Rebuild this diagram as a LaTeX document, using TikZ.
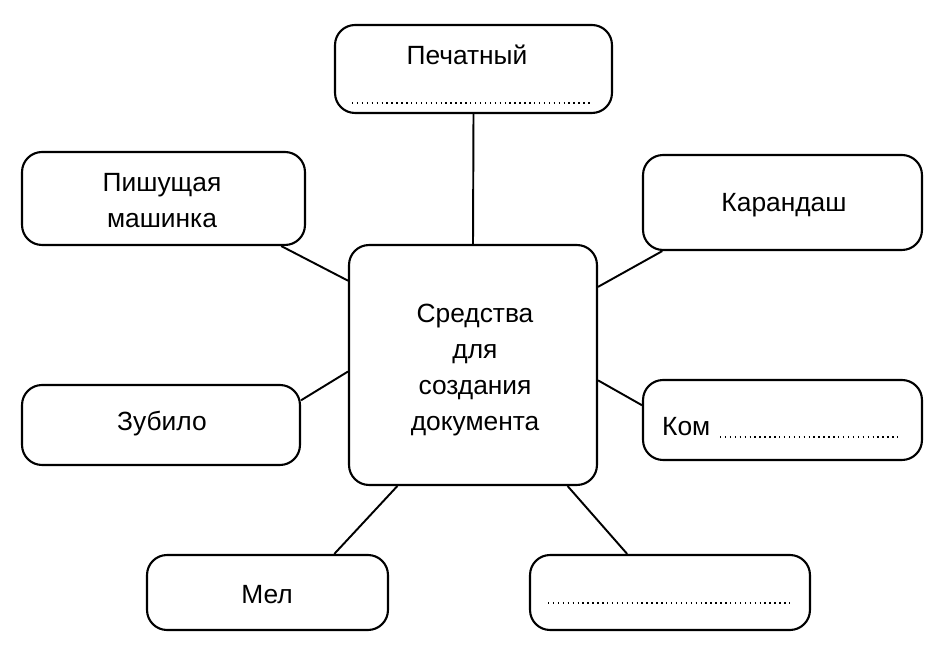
\documentclass[tikz,border=0pt]{standalone}
\usepackage{fontspec}
\setmainfont{Liberation Sans}
\usetikzlibrary{positioning}
\tikzset{box/.style={draw, line width=1.2pt, rounded corners=0.4cm, minimum width=#1, inner sep=0pt},
  txt/.style={font=\fontsize{15}{20.5}\selectfont, align=center},
  dots/.style={dotted, line width=0.8pt},
  link/.style={line width=1.1pt}}
\begin{document}
\begin{tikzpicture}[x=0.02cm, y=-0.02cm]
  \useasboundingbox (0,0) rectangle (950,651);
  % boxes
  \node[box=5.54cm, minimum height=1.76cm] (pech) at (473.5,69) {};
  \node[box=5.66cm, minimum height=1.86cm] (pm) at (163.5,198.5) {};
  \node[box=5.58cm, minimum height=1.9cm] (kar) at (782.5,202.5) {};
  \node[box=4.96cm, minimum height=4.8cm] (c) at (473,365) {};
  \node[box=5.56cm, minimum height=1.6cm] (zub) at (161,425) {};
  \node[box=5.58cm, minimum height=1.6cm] (kom) at (782.5,420) {};
  \node[box=4.82cm, minimum height=1.5cm] (mel) at (267.5,592.5) {};
  \node[box=5.6cm, minimum height=1.5cm] (blank) at (670,592.5) {};
  % texts
  \node[txt] (tpech) at (467,55) {Печатный};
  \node[txt] (tpm) at (162,201) {Пишущая\\машинка};
  \node[txt] (tkar) at (784,205) {Карандаш};
  \node[txt] (tc) at (475,370) {Средства\\для\\создания\\документа};
  \node[txt] (tzub) at (162,424) {Зубило};
  \node[txt, anchor=west] (tkom) at (656,427) {Ком};
  \node[txt] (tmel) at (267,595) {Мел};
  % dotted answer lines
  \coordinate (d1) at (352,103); \coordinate (d2) at (590,103);
  \coordinate (d3) at (720,437); \coordinate (d4) at (898,437);
  \coordinate (d5) at (548,603); \coordinate (d6) at (790,603);
  \draw[dots] (d1) -- (d2);
  \draw[dots] (d3) -- (d4);
  \draw[dots] (d5) -- (d6);
  % connectors
  \draw[link] (pech.south) -- (c.north);
  \draw[link] (pm.338) -- (c.146);
  \draw[link] (kar.202) -- (c.32);
  \draw[link] (zub.10) -- (c.183);
  \draw[link] (kom.174) -- (c.353);
  \draw[link] (mel.30) -- (c.238);
  \draw[link] (blank.138) -- (c.308);
\end{tikzpicture}
\end{document}
